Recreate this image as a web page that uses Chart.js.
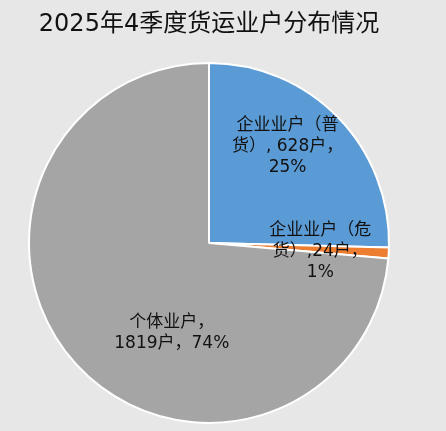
<!DOCTYPE html>
<html>
<head>
<meta charset="utf-8">
<script src="https://cdn.jsdelivr.net/npm/chart.js@4"></script>
<style>
  html, body { margin: 0; padding: 0; background: #e7e7e7; }
  #wrap { width: 446px; height: 431px; }
</style>
</head>
<body>
<div id="wrap"><canvas id="pie-card"></canvas></div>
<script>
// Data
const categories = ["企业业户（普货）", "企业业户（危货）", "个体业户"];
const households = [628, 24, 1819];
const sliceColors = ["#5b9bd5", "#ed7d31", "#a5a5a5"];

// how each data label wraps in the picture
const labelLines = [
    ["企业业户（普", "货）, 628户，", "25%"],
    ["企业业户（危", "货）,24户，", "1%"],
    ["个体业户，", "1819户，74%"],
];

// label placement: fraction of radius, angle shift (deg)
const labelPlace = [
    { r: 0.69, shift: -6.5 },
    { r: 0.62, shift: 1 },
    { r: 0.54, shift: -25 },
];

const fontFamily = '"DejaVu Sans", "Noto Sans CJK SC", sans-serif';

// draws the text inside each slice
const sliceLabels = {
    id: "sliceLabels",
    afterDatasetsDraw(chart) {
        const { ctx } = chart;
        const meta = chart.getDatasetMeta(0);
        ctx.save();
        ctx.fillStyle = "#111111";
        ctx.font = `17px ${fontFamily}`;
        ctx.textAlign = "center";
        ctx.textBaseline = "middle";
        meta.data.forEach((arc, i) => {
            const mid = (arc.startAngle + arc.endAngle) / 2 + (labelPlace[i].shift * Math.PI) / 180;
            const r = arc.outerRadius * labelPlace[i].r;
            const cx = arc.x + Math.cos(mid) * r;
            const cy = arc.y + Math.sin(mid) * r;
            const lines = labelLines[i];
            const lh = 21;
            lines.forEach((line, k) => {
                ctx.fillText(line, cx, cy + (k - (lines.length - 1) / 2) * lh);
            });
        });
        ctx.restore();
    },
};

new Chart(document.getElementById("pie-card"), {
    type: "pie",
    data: {
        labels: categories,
        datasets: [
            {
                data: households,
                backgroundColor: sliceColors,
                borderColor: "#ffffff",
                borderWidth: 2,
            },
        ],
    },
    options: {
        responsive: true,
        maintainAspectRatio: false,
        animation: false,
        layout: {
            padding: { left: 28, right: 56, top: 6, bottom: 7 },
        },
        plugins: {
            legend: { display: false },
            tooltip: { enabled: false },
            title: {
                display: true,
                text: "2025年4季度货运业户分布情况",
                color: "#111111",
                font: { family: fontFamily, size: 24, weight: "normal" },
                padding: { top: 4, bottom: 23 },
            },
        },
    },
    plugins: [sliceLabels],
});
</script>
</body>
</html>
